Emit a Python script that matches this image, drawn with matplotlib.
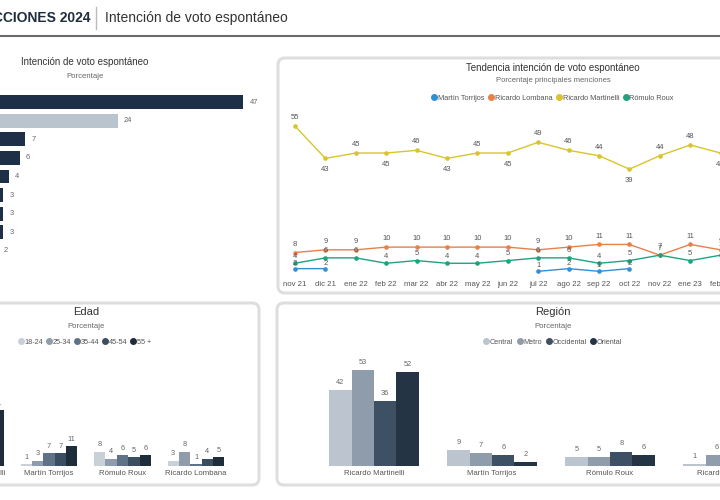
import matplotlib.pyplot as plt
import numpy as np
from matplotlib.patches import FancyBboxPatch
from matplotlib.lines import Line2D

plt.rcParams['font.family'] = ['Liberation Sans', 'DejaVu Sans']

# ---- data ----
top_names = ["Ricardo Martinelli", "No sabe / No responde", "Martín Torrijos", "Rómulo Roux",
             "Ricardo Lombana", "Otro 1", "Otro 2", "Otro 3", "Otro 4"]
top_vals = [47, 24, 7, 6, 4, 3, 3, 3, 2]

months = ["nov 21", "dic 21", "ene 22", "feb 22", "mar 22", "abr 22", "may 22", "jun 22",
          "jul 22", "ago 22", "sep 22", "oct 22", "nov 22", "ene 23", "feb 23"]
nan = np.nan
torrijos = [2, 2, nan, nan, nan, nan, nan, nan, 1, 2, 1, 2, nan, nan, nan]
lombana = [8, 9, 9, 10, 10, 10, 10, 10, 9, 10, 11, 11, 7, 11, 9]
martinelli = [55, 43, 45, 45, 46, 43, 45, 45, 49, 46, 44, 39, 44, 48, 45]
roux = [4, 6, 6, 4, 5, 4, 4, 5, 6, 6, 4, 5, 7, 5, 7]
mart_above = [1, 0, 1, 0, 1, 0, 1, 0, 1, 1, 1, 0, 1, 1, 0]

cands = ["Ricardo Martinelli", "Martín Torrijos", "Rómulo Roux", "Ricardo Lombana"]
ages = ["18-24", "25-34", "35-44", "45-54", "55 +"]
age_18_24 = [45, 1, 8, 3]
age_25_34 = [48, 3, 4, 8]
age_35_44 = [47, 7, 6, 1]
age_45_54 = [46, 7, 5, 4]
age_55 = [31, 11, 6, 5]

regions = ["Central", "Metro", "Occidental", "Oriental"]
reg_central = [42, 9, 5, 1]
reg_metro = [53, 7, 5, 6]
reg_occidental = [36, 6, 8, 4]
reg_oriental = [52, 2, 6, 3]

W, H = 720, 500
fig = plt.figure(figsize=(7.2, 5), dpi=100)


def box(x, y, w, h):
    return [x / W, 1 - (y + h) / H, w / W, h / H]


bg = fig.add_axes([0, 0, 1, 1])
bg.set_xlim(0, W)
bg.set_ylim(H, 0)
bg.axis('off')

# panels
for (x, y, w, h) in [(278, 58, 460, 235), (-30, 303, 289, 182), (277, 303, 460, 182)]:
    bg.add_patch(FancyBboxPatch((x, y), w, h, boxstyle='round,pad=0,rounding_size=7',
                                fc='white', ec='#dedede', lw=2.2))

# header
bg.text(91, 18, 'ELECCIONES 2024', ha='right', va='center', fontsize=10,
        fontweight='bold', color='#1f2d3d')
bg.plot([96, 96], [7, 29], color='#bbbbbb', lw=1)
bg.text(105, 18, 'Intención de voto espontáneo', ha='left', va='center',
        fontsize=10, color='#333333')
bg.plot([0, 720], [36, 36], color='#6b6b6b', lw=1.5)

tc = '#333333'
sc = '#666666'

# ---- left bars ----
bg.text(85, 62, 'Intención de voto espontáneo', ha='center', va='center', fontsize=7, color=tc)
bg.text(85, 76, 'Porcentaje', ha='center', va='center', fontsize=5.6, color=sc)
ax1 = fig.add_axes(box(-13, 92.7, 278, 167.6))
cols = ['#1e3048'] * len(top_vals)
cols[1] = '#b9c4cf'
ypos = np.arange(len(top_vals))
b = ax1.barh(ypos, top_vals, height=0.75, color=cols)
ax1.bar_label(b, padding=4.5, fontsize=5.4, color=sc)
ax1.set_xlim(0, 278 / 5.45)
ax1.set_ylim(len(top_vals) - 0.5, -0.5)
ax1.set_yticks([])
ax1.set_xticks([])
ax1.axis('off')

# ---- line chart ----
bg.text(553, 68, 'Tendencia intención de voto espontáneo', ha='center', va='center', fontsize=7, color=tc)
bg.text(553, 81, 'Porcentaje principales menciones', ha='center', va='center', fontsize=5.5, color=sc)
ax2 = fig.add_axes(box(285, 110, 445, 166))
xi = np.arange(len(months))
series = [("Martín Torrijos", torrijos, '#2f8fd8'),
          ("Ricardo Lombana", lombana, '#e8804a'),
          ("Ricardo Martinelli", martinelli, '#d8c52c'),
          ("Rómulo Roux", roux, '#1fa37f')]
for name, vals, c in series:
    ax2.plot(xi, vals, color=c, lw=1, marker='o', ms=2.3)
for i, v in enumerate(martinelli):
    off = 6 if mart_above[i] else -8
    ax2.annotate(str(v), (i, v), xytext=(0, off), textcoords='offset points',
                 ha='center', va='center', fontsize=5.5, color='#555555')
for vals, off in [(lombana, 6), (roux, 5), (torrijos, 4)]:
    for i, v in enumerate(vals):
        if not np.isnan(v):
            ax2.annotate(str(int(v)), (i, v), xytext=(0, off), textcoords='offset points',
                         ha='center', va='center', fontsize=5.5, color='#555555')
ax2.set_xlim((285 - 295) / 30.4, (730 - 295) / 30.4)
ax2.set_ylim(-0.74, 61)
ax2.set_xticks(xi)
ax2.set_xticklabels(months, fontsize=5.6, color='#555555')
ax2.tick_params(length=0, pad=3.5)
ax2.set_yticks([])
for s in ax2.spines.values():
    s.set_visible(False)
ax2.patch.set_alpha(0)
handles = [Line2D([], [], marker='o', ls='', color=c, ms=4) for _, _, c in series]
fig.legend(handles, [n for n, _, _ in series], loc='center', bbox_to_anchor=(553 / W, 1 - 98 / H),
           ncol=4, frameon=False, fontsize=5.3, handlelength=0.6, handletextpad=0.2,
           columnspacing=0.6, labelcolor='#555555')

# ---- Edad ----
bg.text(86, 312, 'Edad', ha='center', va='center', fontsize=8, color=tc)
bg.text(86, 326, 'Porcentaje', ha='center', va='center', fontsize=5.6, color=sc)
ax3 = fig.add_axes(box(-60, 360, 310, 106))
age_cols = ['#c9d0d8', '#8e9cab', '#5e7388', '#3b4d60', '#1f2c3a']
gx = np.arange(len(cands))
bw = 0.155
for j, vals in enumerate([age_18_24, age_25_34, age_35_44, age_45_54, age_55]):
    bb = ax3.bar(gx + (j - 2) * bw, vals, width=bw, color=age_cols[j])
    ax3.bar_label(bb, padding=2.5, fontsize=5.3, color=sc)
ax3.set_xlim((-60 + 24.5) / 73.5, (250 + 24.5) / 73.5)
ax3.set_ylim(0, 106 / 1.8)
ax3.set_xticks(gx)
ax3.set_xticklabels(cands, fontsize=5.6, color='#555555')
ax3.tick_params(length=0, pad=3)
ax3.set_yticks([])
for s in ax3.spines.values():
    s.set_visible(False)
ax3.patch.set_alpha(0)
h3 = [Line2D([], [], marker='o', ls='', color=c, ms=4) for c in age_cols]
fig.legend(h3, ages, loc='center', bbox_to_anchor=(85 / W, 1 - 342 / H), ncol=5, frameon=False,
           fontsize=5.2, handlelength=0.6, handletextpad=0.2, columnspacing=0.5, labelcolor='#555555')

# ---- Región ----
bg.text(553, 312, 'Región', ha='center', va='center', fontsize=8, color=tc)
bg.text(553, 326, 'Porcentaje', ha='center', va='center', fontsize=5.6, color=sc)
ax4 = fig.add_axes(box(290, 360, 450, 106))
reg_cols = ['#bcc5cf', '#8f9cab', '#3d5064', '#243444']
rw = 0.19
for j, vals in enumerate([reg_central, reg_metro, reg_occidental, reg_oriental]):
    bb = ax4.bar(gx + (j - 1.5) * rw, vals, width=rw, color=reg_cols[j])
    ax4.bar_label(bb, padding=3, fontsize=5.3, color=sc)
ax4.set_xlim((290 - 374) / 118, (740 - 374) / 118)
ax4.set_ylim(0, 106 / 1.81)
ax4.set_xticks(gx)
ax4.set_xticklabels(cands, fontsize=5.6, color='#555555')
ax4.tick_params(length=0, pad=3)
ax4.set_yticks([])
for s in ax4.spines.values():
    s.set_visible(False)
ax4.patch.set_alpha(0)
h4 = [Line2D([], [], marker='o', ls='', color=c, ms=4) for c in reg_cols]
fig.legend(h4, regions, loc='center', bbox_to_anchor=(553 / W, 1 - 342 / H), ncol=4, frameon=False,
           fontsize=5.2, handlelength=0.6, handletextpad=0.2, columnspacing=0.6, labelcolor='#555555')

fig.savefig('out.png', dpi=100, facecolor='white')
